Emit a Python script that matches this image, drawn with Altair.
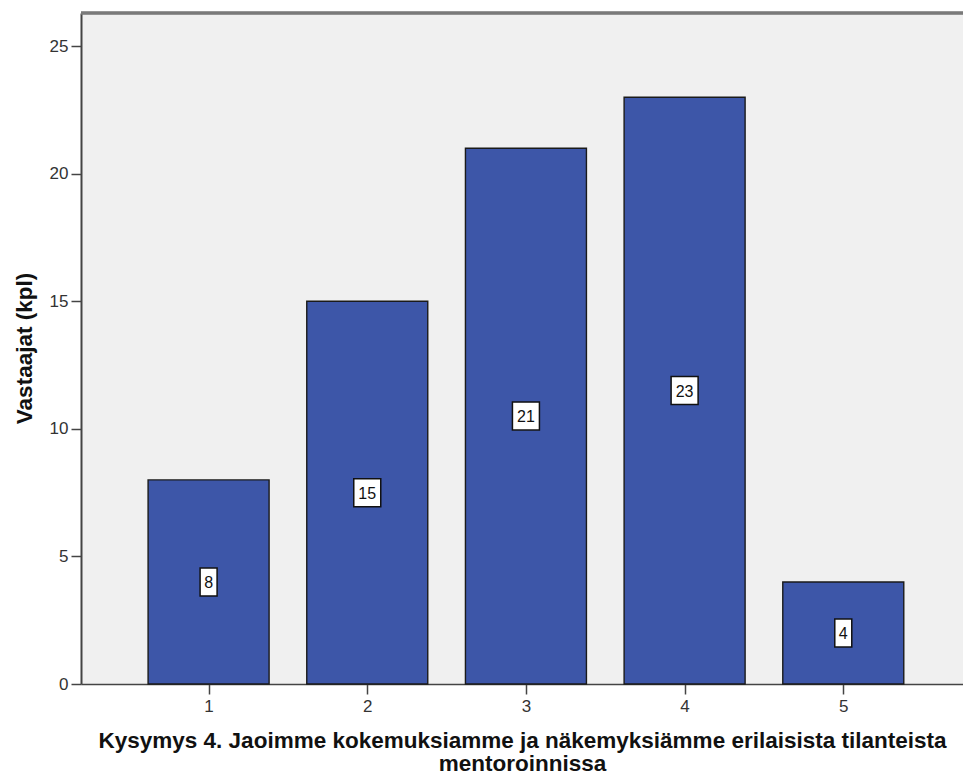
import altair as alt
import pandas as pd

# Answer options (1-5) and respondent counts
options = [1, 2, 3, 4, 5]
counts = [8, 15, 21, 23, 4]
labels = ["8", "15", "21", "23", "4"]

df = pd.DataFrame({"vaihtoehto": options, "lkm": counts, "nimi": labels})
df["puoli"] = df["lkm"] / 2
df["leveys"] = df["nimi"].str.len()

FONT = "Liberation Sans"
BAR_BLUE = "#3d56a8"

x_scale = alt.Scale(domain=[0.2274, 5.723], nice=False, zero=False)
y_scale = alt.Scale(domain=[0, 26.3], nice=False)

base = alt.Chart(df)

bars = base.mark_bar(size=121, color=BAR_BLUE, stroke="#1a1a1a", strokeWidth=1.4).encode(
    x=alt.X(
        "vaihtoehto:Q",
        scale=x_scale,
        axis=alt.Axis(
            values=options,
            format="d",
            grid=False,
            domainColor="#444444",
            domainWidth=1.5,
            tickColor="#444444",
            tickWidth=1.5,
            tickSize=10,
            labelFontSize=17,
            labelColor="#333333",
            labelFont=FONT,
            labelPadding=4,
            title=[
                "Kysymys 4. Jaoimme kokemuksiamme ja näkemyksiämme erilaisista tilanteista",
                "mentoroinnissa",
            ],
            titleFont=FONT,
            titleFontSize=22.5,
            titleFontWeight="bold",
            titleColor="#111111",
            titleLineHeight=23,
            titleBaseline="top",
            titleAnchor="middle",
            titleX=441,
            titleY=45,
        ),
    ),
    y=alt.Y(
        "lkm:Q",
        scale=y_scale,
        axis=alt.Axis(
            values=[0, 5, 10, 15, 20, 25],
            grid=False,
            domainColor="#444444",
            domainWidth=2,
            tickColor="#444444",
            tickWidth=1.5,
            tickSize=10,
            labelFontSize=17,
            labelColor="#333333",
            labelFont=FONT,
            labelPadding=3,
            title="Vastaajat (kpl)",
            titleFont=FONT,
            titleFontSize=22.5,
            titleFontWeight="bold",
            titleColor="#111111",
            titleAngle=-90,
            titleAlign="center",
            titleBaseline="middle",
            titleX=-57,
            titleY=335,
        ),
    ),
)

def label_boxes(n_chars, half_w):
    return base.transform_filter(alt.datum.leveys == n_chars).mark_rect(
        fill="white",
        stroke="#111111",
        strokeWidth=1.5,
        xOffset=-half_w,
        x2Offset=half_w,
        yOffset=14,
        y2Offset=-14,
    ).encode(
        x=alt.X("vaihtoehto:Q", scale=x_scale),
        x2="vaihtoehto:Q",
        y=alt.Y("puoli:Q", scale=y_scale),
        y2="puoli:Q",
    )

boxes_one = label_boxes(1, 8.5)
boxes_two = label_boxes(2, 13.5)

texts = base.mark_text(font=FONT, fontSize=16, color="#111111", baseline="middle", dy=1).encode(
    x=alt.X("vaihtoehto:Q", scale=x_scale),
    y=alt.Y("puoli:Q", scale=y_scale),
    text="nimi:N",
)

top_line = alt.Chart(df).mark_rule(color="#7a7a7a", strokeWidth=2.5).encode(
    y=alt.value(0), x=alt.value(0), x2=alt.value(882)
)

chart = (
    alt.layer(bars, boxes_one, boxes_two, texts, top_line)
    .properties(
        width=882,
        height=671,
        autosize=alt.AutoSizeParams(type="none"),
        padding={"left": 81, "top": 13, "right": 0, "bottom": 93},
        background="white",
    )
    .configure_view(fill="#f0f0f0", stroke=None)
)

chart.save("out.html", embed_options={"renderer": "svg", "actions": False})
